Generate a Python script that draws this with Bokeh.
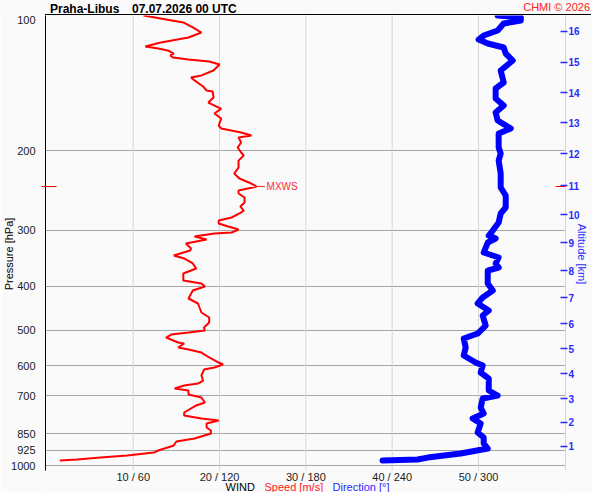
import math
from bokeh.plotting import figure
from bokeh.layouts import column
from bokeh.models import Range1d, FixedTicker, LogAxis, Div
from bokeh.core.properties import value
from bokeh.embed import file_html
from bokeh.resources import INLINE

station = "Praha-Libus"
timestamp = "07.07.2026 00 UTC"
credit = "CHMI © 2026"
x_title_parts = ["WIND", "Speed [m/s]", "Direction [°]"]

pressure_ticks = [100, 200, 300, 400, 500, 600, 700, 850, 925, 1000]
speed_ticks = [10, 20, 30, 40, 50]
speed_tick_labels = ["10 / 60", "20 / 120", "30 / 180", "40 / 240", "50 / 300"]

altitude_km = list(range(1, 17))
altitude_pressure = [906.2, 801.3, 710.9, 625.6, 550.5, 484.4, 423.9, 368.8,
                     319.5, 277.3, 238.7, 202.9, 173.2, 148.5, 127.0, 108.4]

speed_pressure = [100.0, 103.6, 106.3, 109.1, 111.9, 114.8, 117.2, 118.4, 119.6, 121.5,
                  122.7, 124.0, 125.2, 126.5, 128.5, 132.5, 135.9, 137.3, 139.4, 143.8,
                  146.8, 147.5, 152.1, 156.1, 160.2, 161.0, 165.1, 169.4, 175.6, 178.3,
                  182.0, 184.8, 186.7, 191.5, 196.5, 201.6, 204.7, 210.1, 217.7, 224.5,
                  230.3, 235.0, 239.9, 244.8, 248.6, 253.8, 260.3, 265.7, 271.3, 275.4,
                  281.1, 285.4, 289.9, 294.4, 299.0, 303.6, 305.2, 309.9, 314.7, 316.2,
                  321.1, 329.4, 332.9, 341.5, 346.7, 355.7, 365.0, 374.5, 388.1, 394.1,
                  400.2, 408.4, 425.5, 436.5, 457.1, 469.0, 481.2, 493.6, 501.2, 506.4,
                  511.6, 519.5, 533.0, 535.7, 546.8, 552.4, 561.0, 575.4, 590.4, 596.5,
                  605.7, 612.0, 631.0, 647.4, 657.4, 664.2, 674.5, 681.3, 695.4, 706.2,
                  724.4, 735.6, 762.5, 774.3, 786.3, 794.3, 806.6, 823.3, 836.0, 849.0,
                  871.0, 884.5, 902.9, 926.2, 935.8, 950.5, 960.3, 969.8, 974.7]
speed = [11.2, 15.8, 16.9, 17.9, 16.4, 13.2, 11.4, 12.9, 14.0, 14.7,
         14.3, 14.6, 16.4, 18.8, 20.0, 19.3, 17.9, 16.7, 17.1, 18.1,
         18.5, 19.2, 19.3, 18.7, 19.9, 20.2, 19.4, 20.2, 19.9, 20.2,
         22.5, 23.7, 22.2, 22.5, 22.1, 22.5, 22.8, 22.2, 22.2, 21.7,
         22.3, 23.4, 24.3, 22.2, 22.2, 22.9, 22.9, 22.4, 22.8, 22.3,
         21.4, 19.9, 19.9, 21.0, 22.2, 21.4, 19.4, 17.1, 18.5, 17.9,
         16.1, 16.7, 16.6, 14.7, 15.9, 16.9, 17.3, 15.8, 15.8, 17.9,
         18.3, 16.9, 16.4, 17.5, 17.9, 18.8, 18.8, 18.2, 18.3, 16.4,
         14.4, 13.8, 15.2, 15.9, 15.2, 16.4, 17.9, 18.8, 19.9, 20.4,
         19.4, 18.2, 17.9, 18.1, 17.5, 15.9, 14.8, 16.4, 16.4, 17.9,
         18.3, 17.3, 15.9, 15.9, 17.9, 19.9, 18.5, 18.5, 19.0, 19.0,
         17.1, 15.0, 14.7, 12.9, 12.4, 9.3, 6.2, 3.5, 1.5]

dir_pressure = [100.0, 101.0, 102.6, 104.2, 108.0, 110.8, 113.1, 115.4, 117.8, 121.5,
                125.9, 132.5, 140.9, 145.3, 152.9, 158.5, 164.3, 171.1, 178.3, 182.9,
                196.5, 202.6, 210.1, 224.5, 241.1, 251.2, 267.1, 275.4, 288.4, 300.5,
                308.3, 313.1, 319.5, 327.8, 336.3, 345.0, 355.7, 363.1, 368.8, 394.1,
                408.4, 423.2, 436.5, 452.5, 464.2, 488.6, 509.0, 522.2, 546.8, 569.6,
                590.4, 599.5, 621.4, 640.9, 681.3, 699.0, 709.8, 743.3, 766.4, 786.3,
                806.6, 844.6, 866.5, 893.5, 916.9, 940.6, 960.3, 969.8, 974.7]
direction = [313.3, 329.4, 329.4, 317.5, 313.3, 303.6, 300.1, 306.4, 317.5, 318.9,
             323.8, 315.4, 317.5, 311.9, 311.9, 317.5, 311.9, 313.3, 322.4, 314.0,
             314.0, 315.4, 314.0, 315.4, 315.4, 318.9, 318.9, 315.4, 314.0, 309.9,
             307.1, 311.9, 306.4, 305.0, 303.6, 314.0, 311.9, 314.0, 306.4, 306.4,
             309.9, 302.9, 299.4, 307.1, 302.9, 305.0, 299.4, 289.7, 291.1, 289.7,
             298.0, 302.9, 301.5, 307.1, 307.1, 313.3, 302.9, 301.5, 303.6, 295.9,
             301.5, 299.4, 303.6, 303.6, 306.4, 287.6, 264.6, 257.6, 233.3]

FONT = "Liberation Sans"
RED = "#ff0000"
BLUE = "#0000ff"
LBLUE = "#2a2aff"
TXT_RED = "#ff2020"
BG = "#fafafa"
TOP_H = 15          # height of the title strip (px)
W, H = 592, 477     # figure size below the strip


def sx(px):
    return (px - 46.4) / 8.6325


def py(page_y):
    return 100.0 * 10 ** ((page_y - 15.0) / 450.0)


X0, X1 = sx(45), sx(565)
P_TOP = 100.0
P_FRAME_BOTTOM = py(470)
P_CANVAS_BOTTOM = py(TOP_H + H)

p = figure(width=W, height=H, output_backend="svg", toolbar_location=None, title=None,
           x_range=Range1d(X0, X1), y_range=Range1d(P_CANVAS_BOTTOM, P_TOP),
           y_axis_type="log",
           min_border_left=45, min_border_right=27, min_border_top=0, min_border_bottom=0,
           background_fill_color=BG, border_fill_color=BG)
p.extra_x_ranges = {"dir": Range1d(X0 * 6, X1 * 6)}
p.outline_line_color = None
p.xaxis.visible = False
p.xgrid.visible = False

imax = max(range(len(speed)), key=lambda i: speed[i])
smax, pmax = speed[imax], speed_pressure[imax]

ya = p.yaxis[0]
ya.ticker = FixedTicker(ticks=pressure_ticks, minor_ticks=[pmax])
ya.bounds = (P_TOP, P_FRAME_BOTTOM)
ya.major_label_overrides = {t: str(t) for t in pressure_ticks}
ya.major_tick_line_color = None
ya.major_tick_in = 0
ya.major_tick_out = 0
ya.minor_tick_line_color = RED
ya.minor_tick_in = 11
ya.minor_tick_out = 4
ya.axis_line_color = "black"
ya.major_label_text_font = FONT
ya.major_label_text_font_size = "11px"
ya.major_label_text_color = "#1a1a1a"
ya.major_label_standoff = 6
ya.axis_label = "Pressure [hPa]"
ya.axis_label_text_font = FONT
ya.axis_label_text_font_size = "11px"
ya.axis_label_text_font_style = "normal"
ya.axis_label_text_color = "black"
ya.axis_label_standoff = -7

ra = LogAxis(ticker=FixedTicker(ticks=altitude_pressure, minor_ticks=[pmax]),
             major_label_overrides={pp: str(k) for pp, k in zip(altitude_pressure, altitude_km)})
ra.bounds = (P_TOP, P_FRAME_BOTTOM)
ra.axis_line_color = "#d6d6d6"
ra.major_tick_line_color = LBLUE
ra.major_tick_line_width = 1.5
ra.major_tick_in = 5
ra.major_tick_out = 2
ra.minor_tick_line_color = RED
ra.minor_tick_in = 10
ra.minor_tick_out = 0
ra.major_label_text_color = LBLUE
ra.major_label_text_font = FONT
ra.major_label_text_font_size = "10px"
ra.major_label_text_font_style = "bold"
ra.major_label_standoff = 1
ra.axis_label = "Altitude [km]"
ra.axis_label_text_font = FONT
ra.axis_label_text_font_size = "11px"
ra.axis_label_text_font_style = "normal"
ra.axis_label_text_color = LBLUE
ra.axis_label_standoff = -7
p.add_layout(ra, "right")

p.ygrid.ticker = FixedTicker(ticks=pressure_ticks[1:])
p.ygrid.grid_line_color = "#a6a6a6"

# vertical grid lines (stop at the bottom of the plotting area)
p.segment(x0=speed_ticks, x1=speed_ticks, y0=[P_TOP] * len(speed_ticks),
          y1=[P_FRAME_BOTTOM] * len(speed_ticks), color="#d6d6d6", line_width=1)

p.line(speed, speed_pressure, color=RED, line_width=2)
p.line(direction, dir_pressure, color=BLUE, line_width=6, x_range_name="dir",
       line_join="round", line_cap="round")

p.segment(x0=[smax], y0=[pmax], x1=[smax + 0.95], y1=[pmax], color="#ff3030", line_width=1)
p.text(x=[smax + 1.15], y=[pmax], text=["MXWS"], text_font=value(FONT),
       text_font_size="10px", text_color="#ff3030", text_baseline="middle")

# bottom tick labels and axis title
p.text(x=speed_ticks, y=[py(476.5)] * len(speed_ticks), text=speed_tick_labels,
       text_font=value(FONT), text_font_size="11px", text_color="#1a1a1a",
       text_align="center", text_baseline="middle")
p.text(x=[sx(225), sx(264), sx(332)], y=[py(486)] * 3, text=x_title_parts,
       text_font=value(FONT), text_font_size="11px",
       text_color=["black", TXT_RED, LBLUE], text_align="left", text_baseline="middle")

top_html = (
    f'<div style="position:relative;width:{W}px;height:{TOP_H}px;background:{BG};'
    f'font-family:\'{FONT}\',Arial,sans-serif;overflow:visible;">'
    f'<span style="position:absolute;left:50px;top:3px;font-size:12px;line-height:12px;'
    f'font-weight:bold;color:#000;white-space:nowrap;">{station}</span>'
    f'<span style="position:absolute;left:132px;top:3px;font-size:12px;line-height:12px;'
    f'font-weight:bold;color:#000;white-space:nowrap;">{timestamp}</span>'
    f'<span style="position:absolute;right:2px;top:2px;font-size:11px;line-height:11px;'
    f'color:{TXT_RED};white-space:nowrap;">{credit}</span>'
    f'<div style="position:absolute;left:45px;top:{TOP_H - 1}px;width:546px;height:1px;'
    f'background:#000;"></div>'
    f'</div>'
)
top = Div(text=top_html, width=W, height=TOP_H, margin=0, styles={"background-color": BG})

layout = column(top, p, spacing=0)

with open("out.html", "w", encoding="utf-8") as f:
    f.write(file_html(layout, INLINE))
